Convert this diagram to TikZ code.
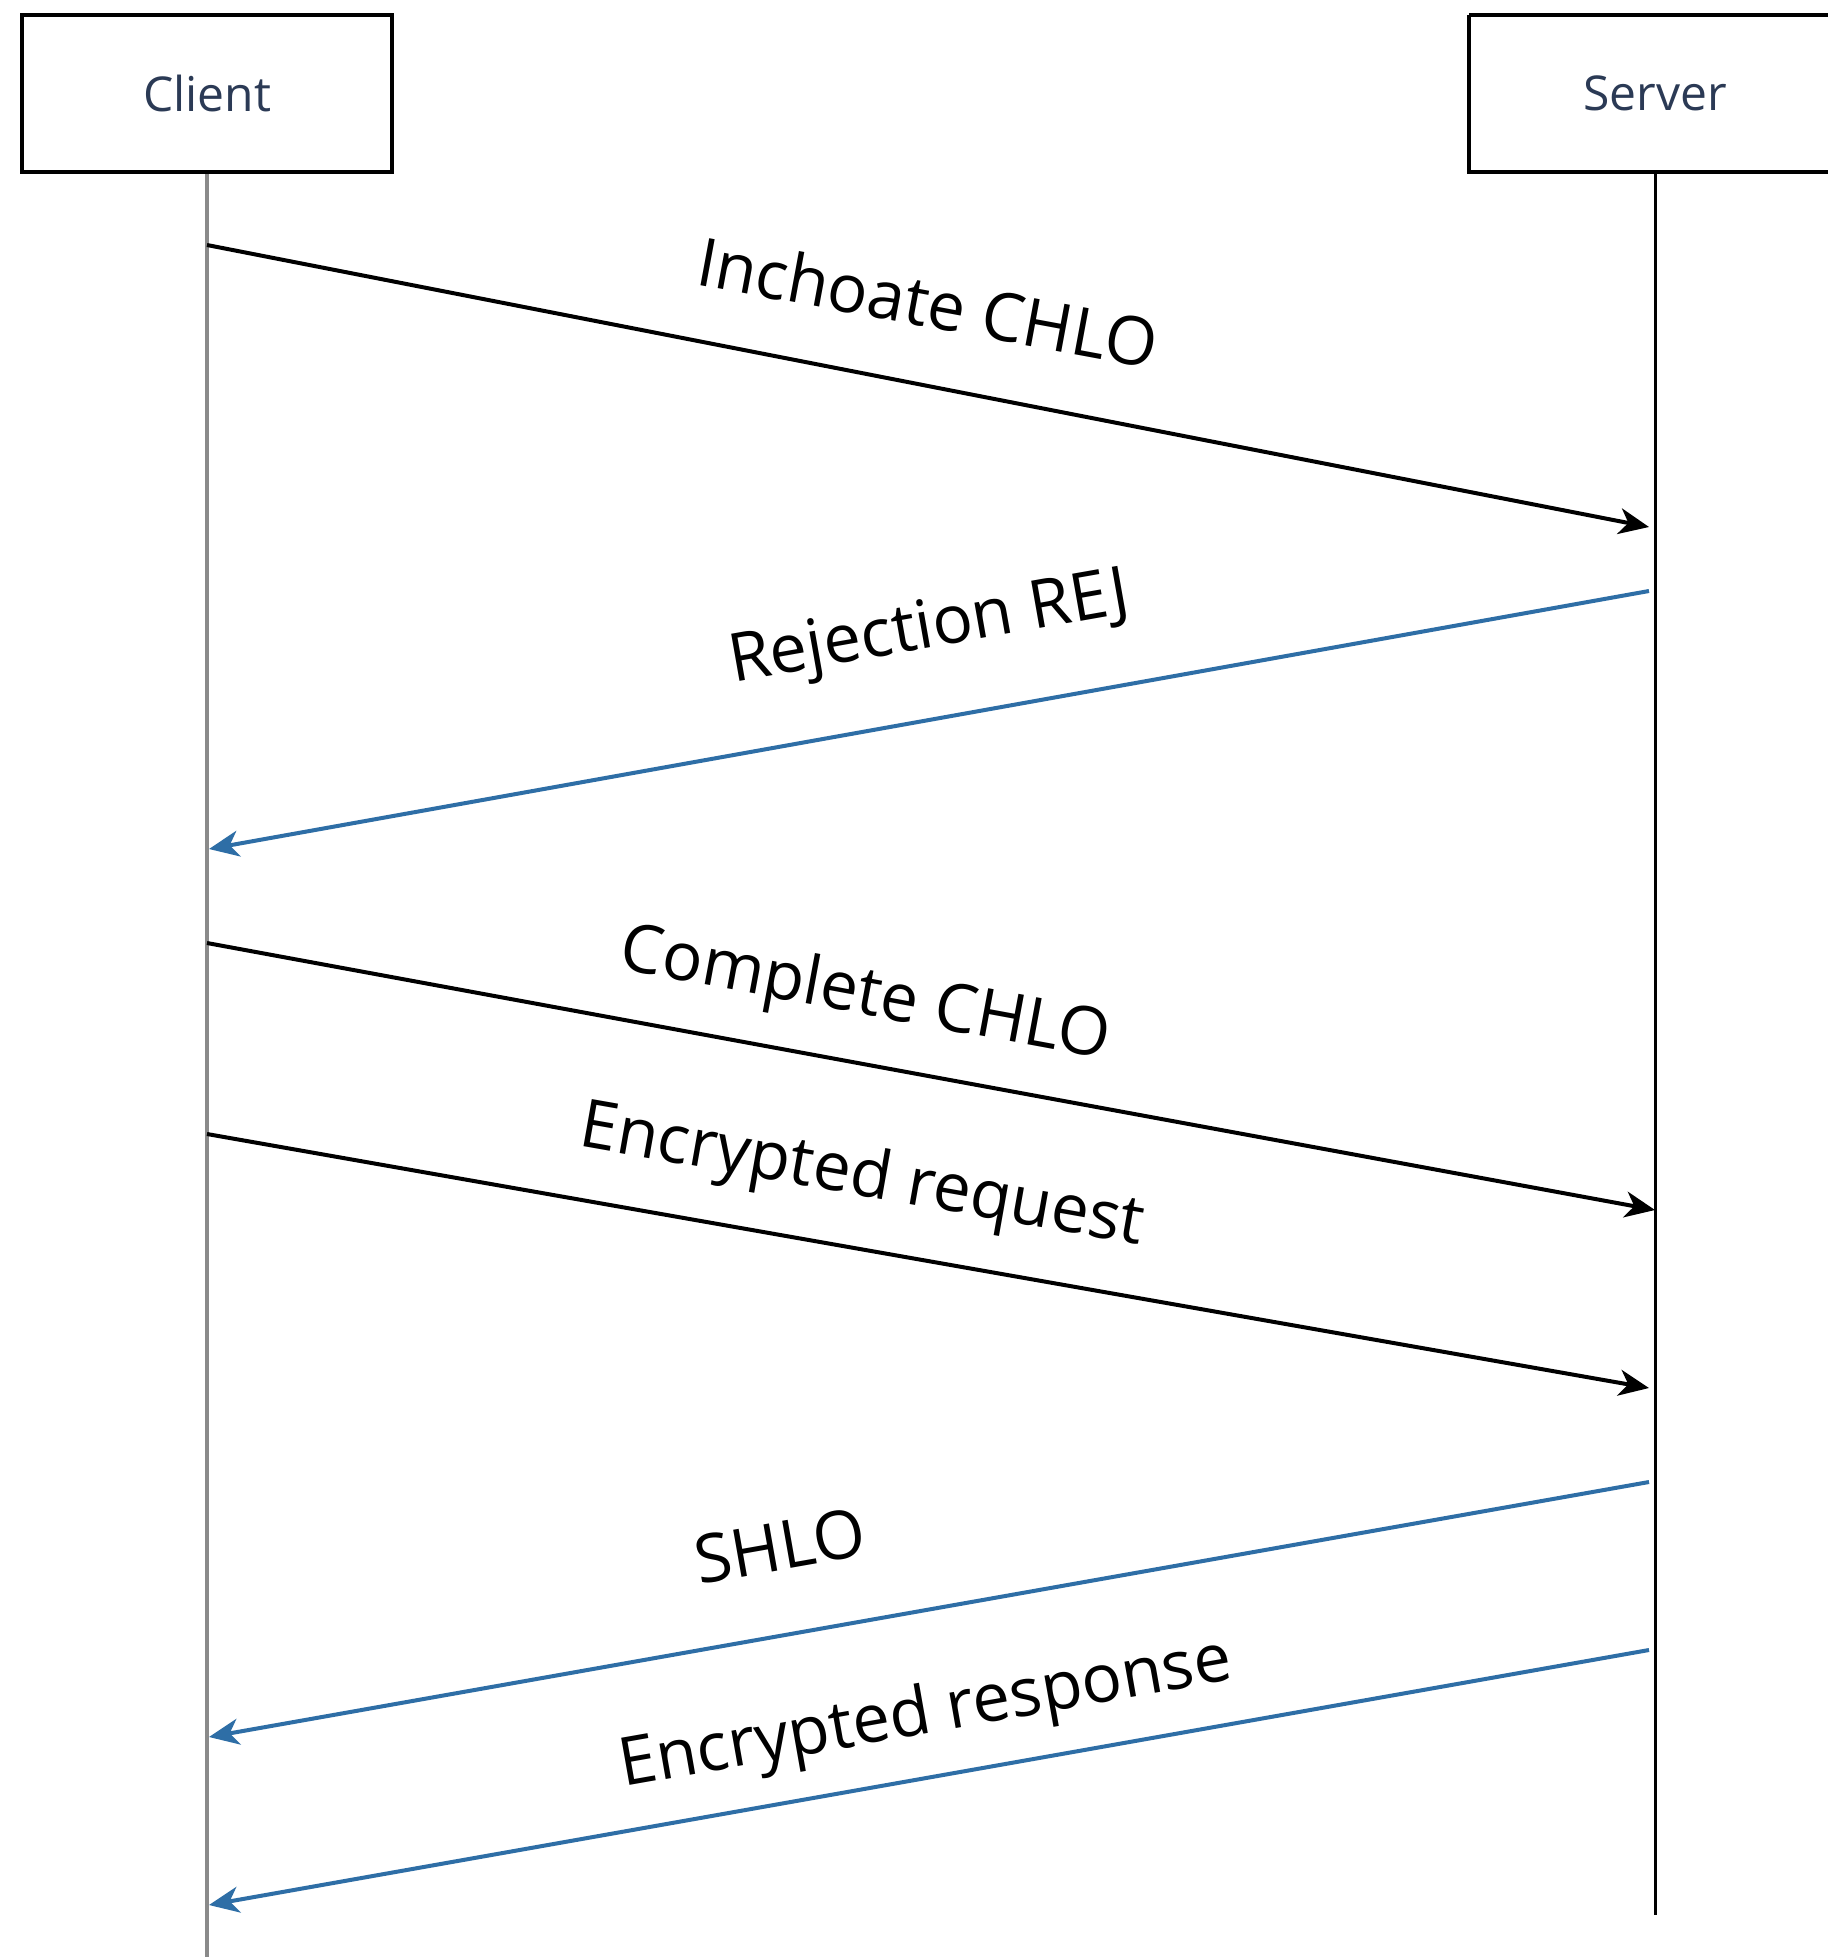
\documentclass[tikz,border=0pt]{standalone}
\usepackage{fontspec}
\setmainfont{Open Sans}
\usetikzlibrary{arrows.meta}
\definecolor{msgblue}{HTML}{2E6EA6}
\definecolor{headtext}{HTML}{2B3A55}
\definecolor{lifegrey}{HTML}{8A8A8A}
\tikzset{
  actorbox/.style={draw=black, line width=4.5pt, fill=white, minimum height=157pt,
    inner sep=0pt, font=\fontsize{48}{54}\selectfont, text=headtext},
  reqmsg/.style={draw=black, line width=4pt,
    -{Stealth[length=30pt,width=26pt,inset=9pt]}},
  repmsg/.style={draw=msgblue, line width=4pt,
    -{Stealth[length=30pt,width=26pt,inset=9pt]}},
  msglabel/.style={font=\fontsize{67}{74}\selectfont, text=black, inner sep=0pt},
}
\begin{document}
\begin{tikzpicture}[x=1pt,y=-1pt]
  \useasboundingbox (0,0) rectangle (1828,1957);
  \clip (0,0) rectangle (1828,1957);
  \fill[white] (0,0) rectangle (1828,1957);

  % lifelines
  \coordinate (cbot) at (207,1960);
  \coordinate (sbot) at (1655,1915);
  \draw[lifegrey, line width=3.5pt] (207,172) -- (cbot);
  \draw[black, line width=3pt] (1655,172) -- (sbot);

  % actor heads
  \node[actorbox, minimum width=370pt] (client) at (207,93.5) {Client};
  \draw[line width=4.5pt] (1469,15) -- (1840,15) (1469,15) -- (1469,172) -- (1840,172);
  \node[font=\fontsize{48}{54}\selectfont, text=headtext] (server) at (1655,93.5) {Server};

  % message end points on the lifelines
  \coordinate (c1) at (207,245);  \coordinate (s1) at (1649,527);
  \coordinate (s2) at (1649,591); \coordinate (c2) at (209,849);
  \coordinate (c3) at (207,943);  \coordinate (s3) at (1655,1210);
  \coordinate (c4) at (207,1134); \coordinate (s4) at (1649,1388);
  \coordinate (s5) at (1649,1482); \coordinate (c5) at (209,1737);
  \coordinate (s6) at (1649,1650); \coordinate (c6) at (209,1905);

  % messages
  \draw[reqmsg] (c1) -- (s1);
  \draw[repmsg] (s2) -- (c2);
  \draw[reqmsg] (c3) -- (s3);
  \draw[reqmsg] (c4) -- (s4);
  \draw[repmsg] (s5) -- (c5);
  \draw[repmsg] (s6) -- (c6);

  % message labels
  \node[msglabel, rotate=-10.5] (l1) at (928,302) {Inchoate CHLO};
  \node[msglabel, rotate=10] (l2) at (930,631) {Rejection REJ};
  \node[msglabel, rotate=-10.5] (l3) at (865,997) {Complete CHLO};
  \node[msglabel, rotate=-10] (l4) at (862,1178) {Encrypted request};
  \node[msglabel, rotate=10] (l5) at (780,1546) {SHLO};
  \node[msglabel, rotate=10] (l6) at (926,1716) {Encrypted response};
\end{tikzpicture}
\end{document}
